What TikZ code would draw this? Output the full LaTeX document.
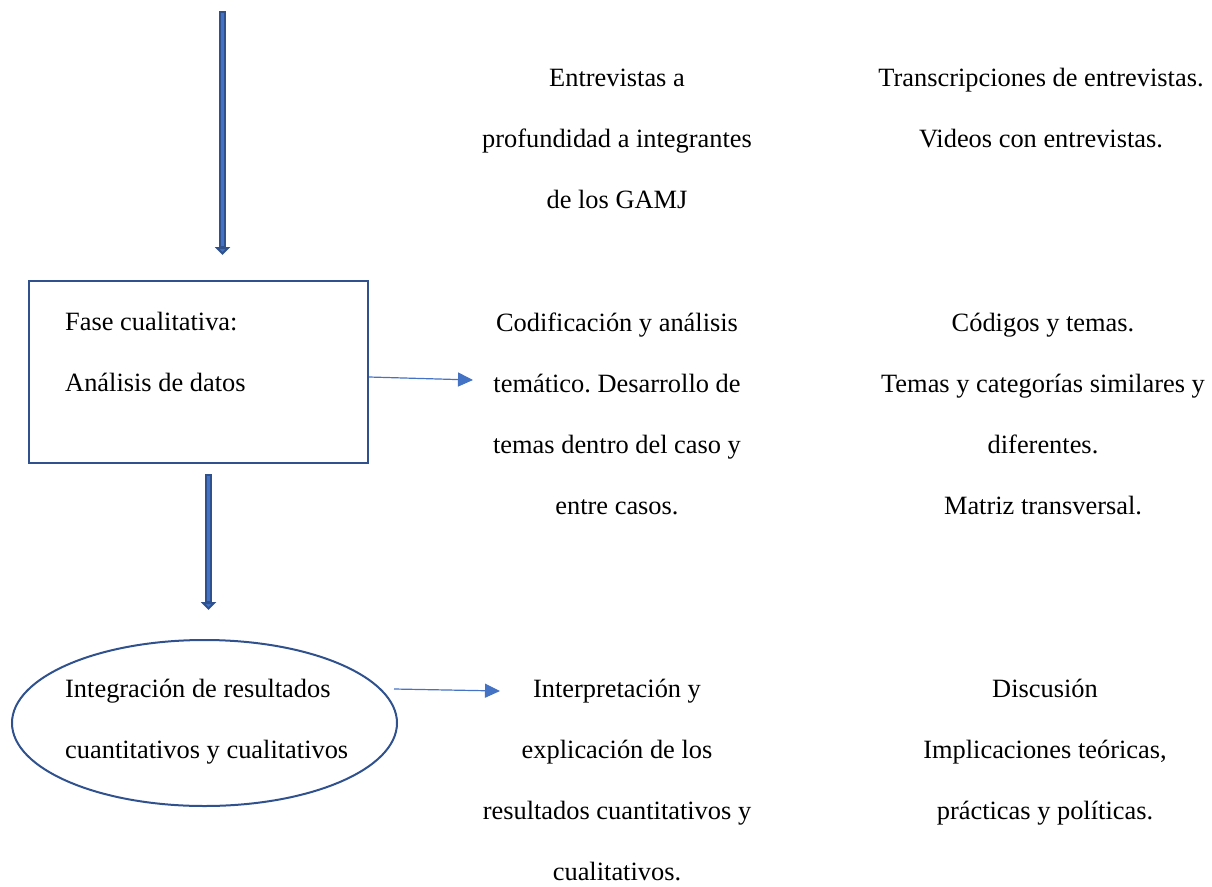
\documentclass[tikz,border=0pt]{standalone}
\usepackage{fontspec}
\setmainfont{Liberation Serif}
\usetikzlibrary{arrows.meta,shapes.geometric}
\definecolor{frameblue}{HTML}{2F528F}
\definecolor{accentblue}{HTML}{4472C4}
\frenchspacing

\begin{document}
\begin{tikzpicture}[x=1pt,y=-1pt,
  % multi-line nodes are placed by the baseline of their last line
  txt/.style={font=\fontsize{26.4}{61}\selectfont, inner sep=0pt, align=center, anchor=base},
  txtleft/.style={font=\fontsize{26.4}{61}\selectfont, inner sep=0pt, align=left, anchor=base west},
  frame/.style={draw=frameblue, line width=2.4pt, inner sep=0pt},
  flowarrow/.style={draw=frameblue, line width=7pt,
    -{Triangle[width=15pt,length=8pt,fill=accentblue]}},
  flowcore/.style={draw=accentblue, line width=3pt},
  thinarrow/.style={draw=accentblue, line width=1.2pt,
    -{Triangle[width=14pt,length=15pt]}}
]
\useasboundingbox (0,0) rectangle (1212,886);

% main shapes
\node[frame, minimum width=339pt, minimum height=182pt] (box) at (198.5,372) {};
\node[frame, ellipse, line width=2pt, minimum width=385pt, minimum height=166pt] (integ) at (204.5,723) {};

% text inside the shapes
\node[txtleft] (boxtext) at (65,391) {Fase cualitativa:\\Análisis de datos};
\node[txtleft] (integtext) at (65,758) {Integración de resultados\\cuantitativos y cualitativos};

% thick vertical flow arrows
\coordinate (a1s) at (222.5,11);
\coordinate (a1e) at (222.5,255);
\coordinate (a2s) at (208.5,474);
\coordinate (a2e) at (208.5,610);
\draw[flowarrow] (a1s) -- (a1e);
\draw[flowcore] ([yshift=-2pt]a1s) -- ([yshift=9pt]a1e);
\draw[flowarrow] (a2s) -- (a2e);
\draw[flowcore] ([yshift=-2pt]a2s) -- ([yshift=9pt]a2e);

% middle column
\node[txt] (m1) at (617,208) {Entrevistas a\\profundidad a integrantes\\de los GAMJ};
\node[txt] (m2) at (617,514) {Codificación y análisis\\temático. Desarrollo de\\temas dentro del caso y\\entre casos.};
\node[txt] (m3) at (617,880) {Interpretación y\\explicación de los\\resultados cuantitativos y\\cualitativos.};

% right column
\node[txt] (r1) at (1041,147) {Transcripciones de entrevistas.\\Videos con entrevistas.};
\node[txt] (r2) at (1043,514) {Códigos y temas.\\Temas y categorías similares y\\diferentes.\\Matriz transversal.};
\node[txt] (r3) at (1045,819) {Discusión\\Implicaciones teóricas,\\prácticas y políticas.};

% thin connectors
\coordinate (t1e) at (473,380);
\coordinate (t2s) at (394,689);
\coordinate (t2e) at (500,691);
\draw[thinarrow] ([yshift=-5pt]box.east) -- (t1e);
\draw[thinarrow] (t2s) -- (t2e);
\end{tikzpicture}
\end{document}
